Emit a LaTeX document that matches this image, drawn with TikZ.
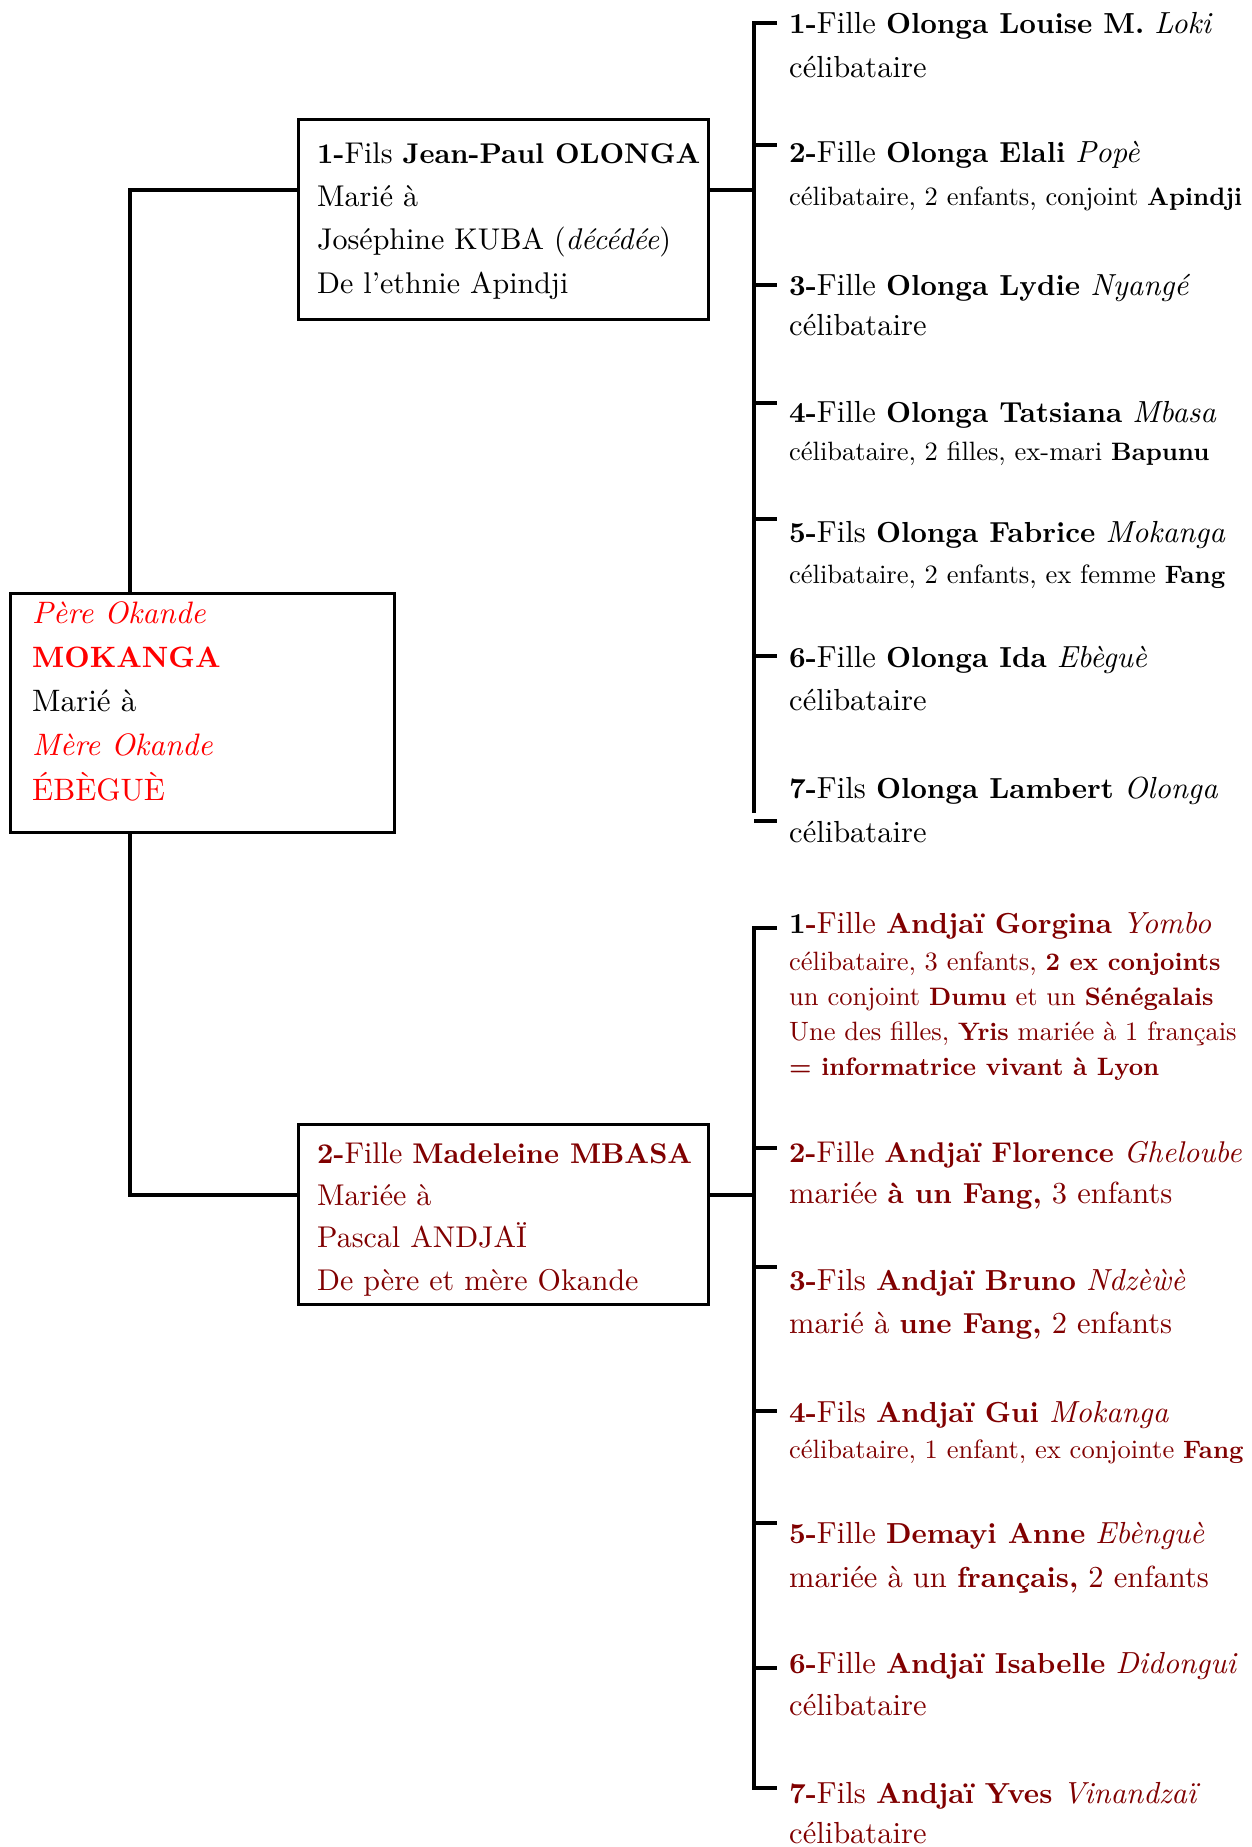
\documentclass[tikz,border=0pt]{standalone}
\usepackage{fontspec}
\setmainfont{lmroman10-regular.otf}[BoldFont=lmroman10-bold.otf,BoldFeatures={Scale=0.95},ItalicFont=lmroman10-italic.otf,BoldItalicFont=lmroman10-bolditalic.otf]
\usepackage{tikz}
\definecolor{bordeaux}{rgb}{0.5,0,0}

\begin{document}
\begin{tikzpicture}[x=1pt,y=-1pt,
		boite/.style={draw,line width=3.4pt,inner sep=0pt,anchor=north west},
		trait/.style={line width=3.4pt},
		grand/.style={font=\fontsize{30.5}{43}\selectfont},
		petit/.style={font=\fontsize{26.5}{35}\selectfont},
		ligne/.style={anchor=base west,inner sep=0pt,align=left,grand}]
	\useasboundingbox (0,0) rectangle (1252,1847);
	\node[boite,minimum width=384pt,minimum height=239pt] (pere) at (9,592) {};%parents
	\node[boite,minimum width=410pt,minimum height=200pt] (fils) at (297,118) {};%1er enfant
	\node[boite,minimum width=410pt,minimum height=180pt] (fille) at (297,1123) {};%2e enfant
	\node[ligne,font=\fontsize{31}{44.2}\selectfont,text=red] (tpere) at (32,800) {\textit{Père Okande}\\\textbf{MOKANGA}\\\textcolor{black}{Marié à}\\\textit{Mère Okande}\\ÉBÈGUÈ};
	\node[ligne,font=\fontsize{30}{43.3}\selectfont] (tfils) at (317,293) {\textbf{1-}Fils \textbf{Jean-Paul OLONGA}\\Marié à\\Joséphine KUBA (\textit{décédée})\\De l’ethnie Apindji};
	\node[ligne,font=\fontsize{30}{42.3}\selectfont,text=bordeaux] (tfille) at (317,1290) {\textbf{2-}Fille \textbf{Madeleine MBASA}\\Mariée à\\Pascal ANDJAÏ\\De père et mère Okande};
	% tronc
	\coordinate (tronc) at (130,0);
	\draw[trait] (fils.west |- 0,190) -| (tronc |- pere.north);
	\draw[trait] (fille.west |- 0,1195) -| (tronc |- pere.south);
	% accolade du haut
	\draw[trait] (fils.east |- 0,190) -- (754,190);
	\draw[trait] (777,23) -- (754,23) -- (754,813);
	\foreach \y in {145,285,403,519,656,821}
		\draw[trait] (754,\y) -- (777,\y);
	% accolade du bas
	\draw[trait] (fille.east |- 0,1195) -- (754,1195);
	\draw[trait] (777,928) -- (754,928) -- (754,1788) -- (777,1788);
	\foreach \y in {1148,1267,1411,1523,1668}
		\draw[trait] (754,\y) -- (777,\y);
	% enfants de Jean-Paul
	\foreach \n/\y/\t in {
		1/33/{\textbf{1-}Fille \textbf{Olonga Louise M.} \textit{Loki}},
		2/162/{\textbf{2-}Fille \textbf{Olonga Elali} \textit{Popè}},
		3/295/{\textbf{3-}Fille \textbf{Olonga Lydie} \textit{Nyangé}},
		4/422/{\textbf{4-}Fille \textbf{Olonga Tatsiana} \textit{Mbasa}},
		5/542/{\textbf{5-}Fils \textbf{Olonga Fabrice} \textit{Mokanga}},
		6/667/{\textbf{6-}Fille \textbf{Olonga Ida} \textit{Ebèguè}},
		7/798/{\textbf{7-}Fils \textbf{Olonga Lambert} \textit{Olonga}}}
		\node[ligne] (o\n) at (789,\y) {\t};
	\foreach \n/\y/\f/\t in {
		1/77/grand/célibataire,
		2/205/petit/{célibataire, 2 enfants, conjoint \textbf{Apindji}},
		3/335/grand/célibataire,
		4/460/petit/{célibataire, 2 filles, ex-mari \textbf{Bapunu}},
		5/583/petit/{célibataire, 2 enfants, ex femme \textbf{Fang}},
		6/710/grand/célibataire,
		7/842/grand/célibataire}
		\node[ligne,\f] (os\n) at (789,\y) {\t};
	% enfants de Madeleine
	\begin{scope}[text=bordeaux]
		\foreach \n/\y/\t in {
			1/933/{\textbf{\textcolor{black}{1}-}Fille \textbf{Andjaï Gorgina} \textit{Yombo}},
			2/1162/{\fontsize{30}{43}\selectfont\textbf{2-}Fille \textbf{Andjaï Florence} \textit{Gheloube}},
			3/1290/{\textbf{3-}Fils \textbf{Andjaï Bruno} \textit{Ndzèẁè}},
			4/1422/{\textbf{4-}Fils \textbf{Andjaï Gui} \textit{Mokanga}},
			5/1543/{\textbf{5-}Fille \textbf{Demayi Anne} \textit{Ebènguè}},
			6/1673/{\textbf{6-}Fille \textbf{Andjaï Isabelle} \textit{Didongui}},
			7/1803/{\textbf{7-}Fils \textbf{Andjaï Yves} \textit{Vinandzaï}}}
			\node[ligne] (a\n) at (789,\y) {\t};
		\foreach \n/\y/\f/\t in {
			1/1075/petit/{célibataire, 3 enfants, \textbf{2 ex conjoints}\\un conjoint \textbf{Dumu} et un \textbf{Sénégalais}\\Une des filles, \textbf{Yris} mariée à 1 français\\\textbf{= informatrice vivant à Lyon}},
			2/1203/grand/{mariée \textbf{à un Fang,} 3 enfants},
			3/1333/grand/{marié à \textbf{une Fang,} 2 enfants},
			4/1458/petit/{célibataire, 1 enfant, ex conjointe \textbf{Fang}},
			5/1587/grand/{mariée à un \textbf{français,} 2 enfants},
			6/1715/grand/célibataire,
			7/1843/grand/célibataire}
			\node[ligne,\f] (as\n) at (789,\y) {\t};
	\end{scope}
\end{tikzpicture}
\end{document}
